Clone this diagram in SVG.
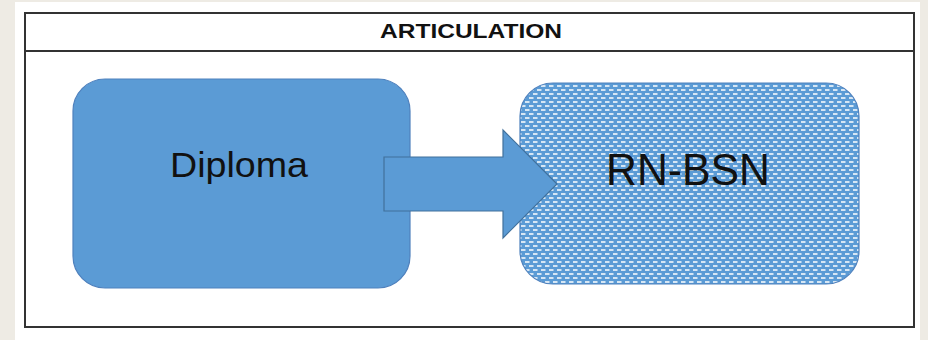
<svg xmlns="http://www.w3.org/2000/svg" width="928" height="340" viewBox="0 0 928 340">
<style>
.frame{fill:none;stroke:#333;stroke-width:2}
.box{fill:#5B9BD5;stroke:#4F81BD;stroke-width:1.2}
.lbl{font-family:"Liberation Sans",Arial,sans-serif;fill:#111;text-anchor:middle}
</style>
<defs>
<pattern id="dots" width="8" height="8" patternUnits="userSpaceOnUse">
<rect width="8" height="8" fill="#5B9BD5"/>
<rect x="1" y="1" width="4.5" height="2" fill="#fff" opacity="0.75"/>
<rect x="5" y="5" width="4.5" height="2" fill="#fff" opacity="0.75"/>
<rect x="-3" y="5" width="4.5" height="2" fill="#fff" opacity="0.75"/>
</pattern>
</defs>
<rect width="928" height="340" fill="#EEEBE4"/>
<rect x="15" y="2" width="905" height="338" fill="#fff"/>
<g id="frame">
<rect class="frame" x="25" y="13" width="889" height="314"/>
<line class="frame" x1="25" y1="51" x2="914" y2="51"/>
<text class="lbl" x="471" y="38" font-size="20" font-weight="bold" textLength="182" lengthAdjust="spacingAndGlyphs">ARTICULATION</text>
</g>
<g id="diploma">
<rect class="box" x="73" y="79" width="337" height="209" rx="32"/>
<text class="lbl" x="239" y="177" font-size="35" textLength="138" lengthAdjust="spacingAndGlyphs">Diploma</text>
</g>
<g id="rnbsn">
<rect x="520" y="83" width="339" height="201" rx="33" fill="url(#dots)" stroke="#4F81BD" stroke-width="1.2"/>
<text class="lbl" x="688" y="185" font-size="44" textLength="164" lengthAdjust="spacingAndGlyphs">RN-BSN</text>
</g>
<g id="connectors">
<polygon points="384,157 503,157 503,130 557,184 503,238 503,211 384,211" fill="#5B9BD5" stroke="#41719C" stroke-width="1.2"/>
</g>
</svg>
